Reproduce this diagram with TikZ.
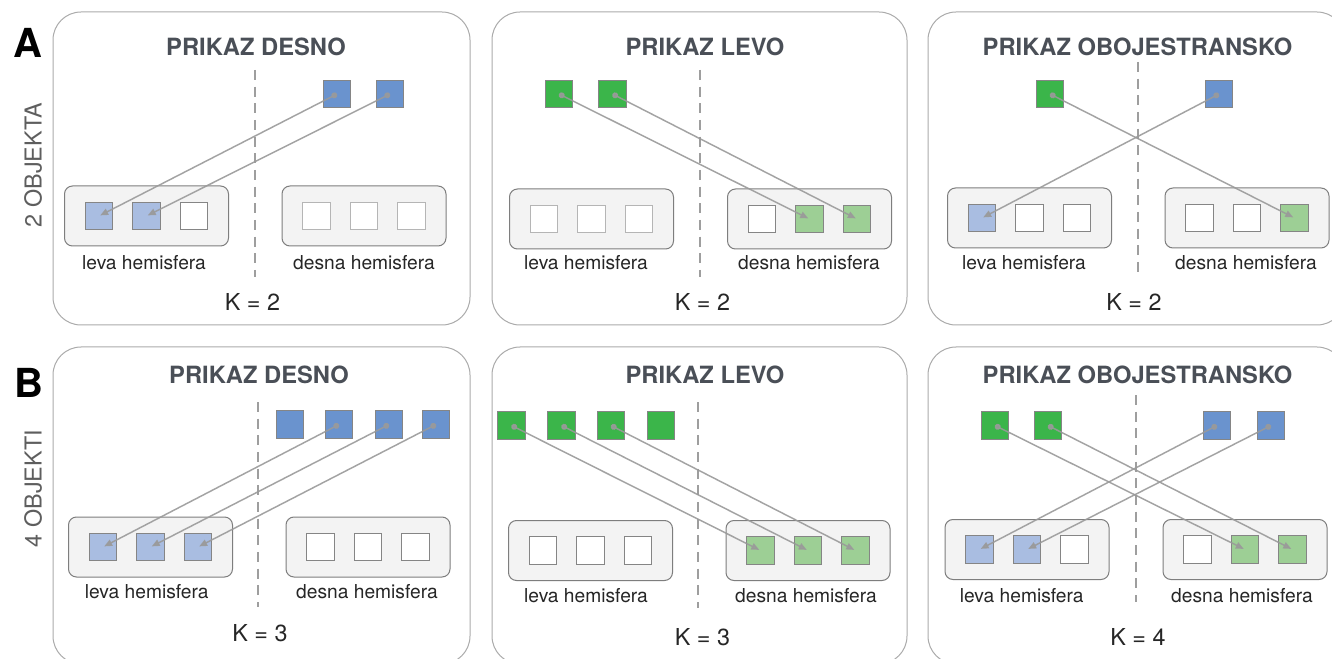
\documentclass[tikz,border=0pt]{standalone}
\usepackage{fontspec}
\setmainfont{TeX Gyre Heros}
\usetikzlibrary{arrows.meta}
\definecolor{panelgray}{HTML}{ABABAB}
\definecolor{boxgray}{HTML}{7E7E7E}
\definecolor{boxfill}{HTML}{F3F3F3}
\definecolor{sqborder}{HTML}{858585}
\definecolor{sqlight}{HTML}{B5B5B5}
\definecolor{srcblue}{HTML}{6A93CE}
\definecolor{tgtblue}{HTML}{A9BDE1}
\definecolor{srcgreen}{HTML}{3BB54A}
\definecolor{tgtgreen}{HTML}{9DCF95}
\definecolor{titlecol}{HTML}{4A4F57}
\definecolor{labelcol}{HTML}{262626}
\definecolor{sidecol}{HTML}{5E5E5E}
\definecolor{arrowcol}{HTML}{9A9A9A}
\definecolor{dashcol}{HTML}{9E9E9E}
\newcommand{\hemigroup}[6]{%
  \node[hbox] (#1) at (#2,#3) {};
  \node[#4] (#1-1) at (#2-47.5,#3) {};
  \node[#5] (#1-2) at (#2,#3) {};
  \node[#6] (#1-3) at (#2+47.5,#3) {};
}
\begin{document}
\begin{tikzpicture}[x=0.75pt,y=-0.75pt,
  panel/.style={draw=panelgray,fill=white,line width=0.75pt,rounded corners=21pt},
  divider/.style={draw=dashcol,line width=1.1pt,dash pattern=on 7.5pt off 5pt},
  hbox/.style={draw=boxgray,fill=boxfill,line width=0.75pt,rounded corners=6pt,
    minimum width=123pt,minimum height=45pt,inner sep=0pt},
  sq/.style={minimum size=20.6pt,inner sep=0pt,line width=0.75pt,draw=sqborder},
  srcB/.style={sq,fill=srcblue},
  srcG/.style={sq,fill=srcgreen},
  tgtB/.style={sq,fill=tgtblue},
  tgtG/.style={sq,fill=tgtgreen},
  emp/.style={sq,fill=white},
  empL/.style={sq,fill=white,draw=sqlight},
  title/.style={font=\fontsize{17.8}{20}\selectfont\bfseries,text=titlecol,inner sep=0pt},
  hlabel/.style={font=\fontsize{14.4}{17}\selectfont,text=labelcol,inner sep=0pt},
  klabel/.style={font=\fontsize{17.5}{20}\selectfont,text=labelcol,inner sep=0pt},
  side/.style={font=\fontsize{17.5}{20}\selectfont,text=sidecol,rotate=90,inner sep=0pt},
  letter/.style={font=\fontsize{30}{34}\selectfont\bfseries,text=black,inner sep=0pt},
  conn/.style={draw=arrowcol,line width=1.1pt,draw opacity=0.9,fill opacity=0.9,
    {Circle[length=4.5pt,fill=arrowcol]}-{Triangle[length=6pt,width=5pt,fill=arrowcol]},
    shorten >=1pt}
]
\useasboundingbox (0,0) rectangle (1332,659);
\clip (0,0) rectangle (1332,659);

% panels
\draw[panel] (53,12) rectangle (470,325);
\draw[panel] (492,12) rectangle (907,325);
\draw[panel] (928,12) rectangle (1345,325);
\draw[panel] (53,347) rectangle (470,664);
\draw[panel] (492,347) rectangle (907,664);
\draw[panel] (928,347) rectangle (1345,664);

% dividers
\draw[divider] (255,70) -- (255,277);
\draw[divider] (700,70) -- (700,277);
\draw[divider] (1138,62) -- (1138,277);
\draw[divider] (258,402) -- (258,607);
\draw[divider] (698,402) -- (698,608);
\draw[divider] (1136,395) -- (1136,602);

% side labels
\node[letter] (la) at (28,43) {A};
\node[letter] (lb) at (29,382.5) {B};
\node[side] (s2) at (33,165) {2 OBJEKTA};
\node[side] (s4) at (33,488.5) {4 OBJEKTI};

% titles
\node[title] (t1) at (256,47) {PRIKAZ DESNO};
\node[title] (t2) at (705,47) {PRIKAZ LEVO};
\node[title] (t3) at (1137.5,47) {PRIKAZ OBOJESTRANSKO};
\node[title] (t4) at (259,375) {PRIKAZ DESNO};
\node[title] (t5) at (705,375) {PRIKAZ LEVO};
\node[title] (t6) at (1137.5,375) {PRIKAZ OBOJESTRANSKO};

% panel 1
\hemigroup{p1L}{146.5}{216}{tgtB}{tgtB}{emp}
\hemigroup{p1R}{364}{216}{empL}{empL}{empL}
\node[srcB] (p1s1) at (337,94) {};
\node[srcB] (p1s2) at (390,94) {};
% panel 2
\hemigroup{p2L}{591.5}{219}{empL}{empL}{empL}
\hemigroup{p2R}{809.5}{219}{emp}{tgtG}{tgtG}
\node[srcG] (p2s1) at (559,94) {};
\node[srcG] (p2s2) at (612.5,94) {};
% panel 3
\hemigroup{p3L}{1029.5}{218}{tgtB}{emp}{emp}
\hemigroup{p3R}{1247}{218}{emp}{emp}{tgtG}
\node[srcG] (p3g) at (1050,94) {};
\node[srcB] (p3b) at (1219,94) {};
% panel 4
\hemigroup{p4L}{150.5}{547}{tgtB}{tgtB}{tgtB}
\hemigroup{p4R}{368}{547}{emp}{emp}{emp}
\node[srcB] (p4s1) at (290,424.5) {};
\node[srcB] (p4s2) at (339,424.5) {};
\node[srcB] (p4s3) at (389,424.5) {};
\node[srcB] (p4s4) at (436,424.5) {};
% panel 5
\hemigroup{p5L}{590.5}{550.5}{emp}{emp}{emp}
\hemigroup{p5R}{808}{550.5}{tgtG}{tgtG}{tgtG}
\node[srcG] (p5s1) at (511.5,425.5) {};
\node[srcG] (p5s2) at (561.5,425.5) {};
\node[srcG] (p5s3) at (611,425.5) {};
\node[srcG] (p5s4) at (661,425.5) {};
% panel 6
\hemigroup{p6L}{1027}{549.5}{tgtB}{tgtB}{emp}
\hemigroup{p6R}{1245}{549.5}{emp}{tgtG}{tgtG}
\node[srcG] (p6g1) at (995,425.5) {};
\node[srcG] (p6g2) at (1048,425.5) {};
\node[srcB] (p6b1) at (1217,425.5) {};
\node[srcB] (p6b2) at (1271,425.5) {};

% connectors
\draw[conn] (p1s1.center) -- (p1L-1.center);
\draw[conn] (p1s2.center) -- (p1L-2.center);
\draw[conn] (p2s1.center) -- (p2R-2.center);
\draw[conn] (p2s2.center) -- (p2R-3.center);
\draw[conn] (p3g.center) -- (p3R-3.center);
\draw[conn] (p3b.center) -- (p3L-1.center);
\draw[conn] (p4s2.center) -- (p4L-1.center);
\draw[conn] (p4s3.center) -- (p4L-2.center);
\draw[conn] (p4s4.center) -- (p4L-3.center);
\draw[conn] (p5s1.center) -- (p5R-1.center);
\draw[conn] (p5s2.center) -- (p5R-2.center);
\draw[conn] (p5s3.center) -- (p5R-3.center);
\draw[conn] (p6g1.center) -- (p6R-2.center);
\draw[conn] (p6g2.center) -- (p6R-3.center);
\draw[conn] (p6b1.center) -- (p6L-1.center);
\draw[conn] (p6b2.center) -- (p6L-2.center);

% labels
\node[hlabel] (h1l) at (144,263) {leva hemisfera};
\node[hlabel] (h1r) at (364,263) {desna hemisfera};
\node[klabel] (k1) at (252.5,302) {K = 2};
\node[hlabel] (h2l) at (586,263) {leva hemisfera};
\node[hlabel] (h2r) at (809,263) {desna hemisfera};
\node[klabel] (k2) at (702.5,302) {K = 2};
\node[hlabel] (h3l) at (1024,263) {leva hemisfera};
\node[hlabel] (h3r) at (1246,263) {desna hemisfera};
\node[klabel] (k3) at (1134,302) {K = 2};
\node[hlabel] (h4l) at (146.7,592) {leva hemisfera};
\node[hlabel] (h4r) at (367,592) {desna hemisfera};
\node[klabel] (k4) at (260,633) {K = 3};
\node[hlabel] (h5l) at (586,596) {leva hemisfera};
\node[hlabel] (h5r) at (806,596) {desna hemisfera};
\node[klabel] (k5) at (702.5,637) {K = 3};
\node[hlabel] (h6l) at (1021.7,596) {leva hemisfera};
\node[hlabel] (h6r) at (1242,596) {desna hemisfera};
\node[klabel] (k6) at (1138,637) {K = 4};
\end{tikzpicture}
\end{document}
